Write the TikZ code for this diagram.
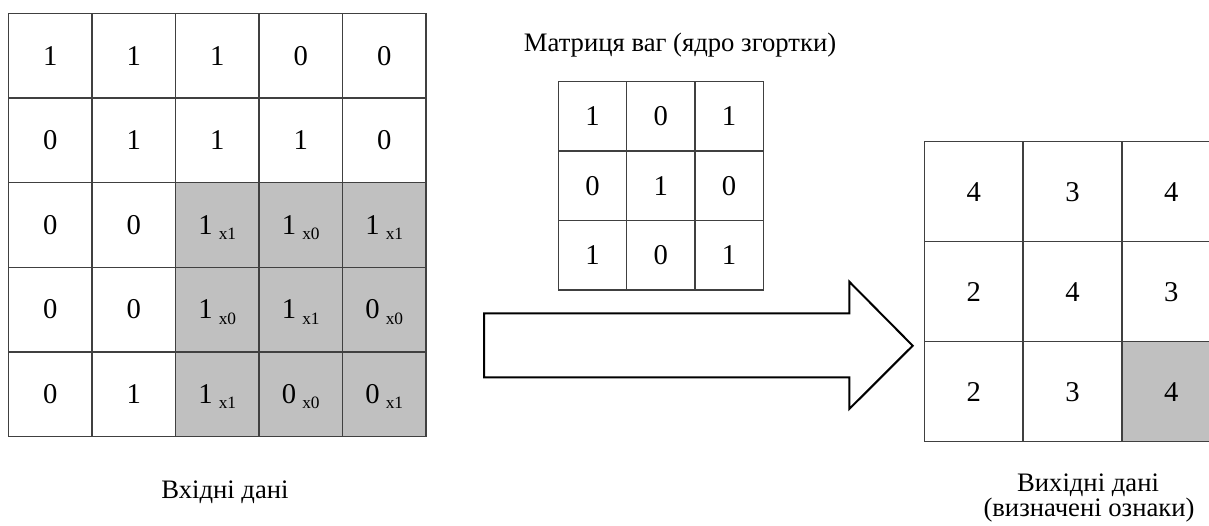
\documentclass[tikz,border=0pt]{standalone}
\usepackage{fontspec}
\setmainfont{Liberation Serif}
\definecolor{gridc}{HTML}{404040}
\definecolor{cellgray}{HTML}{C0C0C0}
\newcommand\sbx[1]{\hspace{4.5pt}\raisebox{-4pt}{\fontsize{13}{13}\selectfont #1}}
\begin{document}
\begin{tikzpicture}[x=0.75pt,y=-0.75pt,
  cell/.style 2 args={draw=gridc, line width=1pt, minimum width=#1, minimum height=#2,
    inner sep=0pt, outer sep=0pt, text height=14pt, text depth=0pt,
    font=\fontsize{21.5}{21.5}\selectfont},
  lbl/.style={inner sep=0pt, font=\fontsize{20}{24}\selectfont},
  bigarrow/.style={draw=black, line width=1.5pt, line join=miter, fill=white}]
\useasboundingbox (0,0) rectangle (1209,525);
\clip (0,0) rectangle (1209,525);
% shaded regions
\fill[cellgray] (175.5,183.3) rectangle (426,436.7);
\fill[cellgray] (1121.9,341.7) rectangle (1220.7,441.7);
% input grid
\foreach \row [count=\r] in {{1,1,1,0,0},{0,1,1,1,0},{0,0,{1\sbx{x1}},{1\sbx{x0}},{1\sbx{x1}}},{0,0,{1\sbx{x0}},{1\sbx{x1}},{0\sbx{x0}}},{0,1,{1\sbx{x1}},{0\sbx{x0}},{0\sbx{x1}}}}
  \foreach \v [count=\c] in \row
    \node[cell={62.6pt}{63.45pt}] (in-\r-\c) at ({8.5+83.5*(\c-0.5)},{13.5+84.6*(\r-0.5)}) {\v};
% kernel
\foreach \row [count=\r] in {{1,0,1},{0,1,0},{1,0,1}}
  \foreach \v [count=\c] in \row
    \node[cell={51.25pt}{52.07pt}] (k-\r-\c) at ({558.3+68.33*(\c-0.5)},{81.7+69.43*(\r-0.5)}) {\v};
% output grid
\foreach \row [count=\r] in {{4,3,4},{2,4,3},{2,3,4}}
  \foreach \v [count=\c] in \row
    \node[cell={74.1pt}{75pt}] (out-\r-\c) at ({924.3+98.8*(\c-0.5)},{141.7+100*(\r-0.5)}) {\v};
% arrow
\draw[bigarrow] (484,313.3) -- (849.3,313.3) -- (849.3,281.7) -- (912.7,345.7)
  -- (849.3,409) -- (849.3,377.3) -- (484,377.3) -- cycle;
% labels
\node[lbl, anchor=base] (title) at (680,51.7) {Матриця ваг (ядро згортки)};
\node[lbl, anchor=base] (inlabel) at (225,498) {Вхідні дані};
\node[lbl, anchor=base] (outlabel1) at (1088,491.7) {Вихідні дані};
\node[lbl, anchor=base] (outlabel2) at (1089,516.7) {(визначені ознаки)};
\end{tikzpicture}
\end{document}
